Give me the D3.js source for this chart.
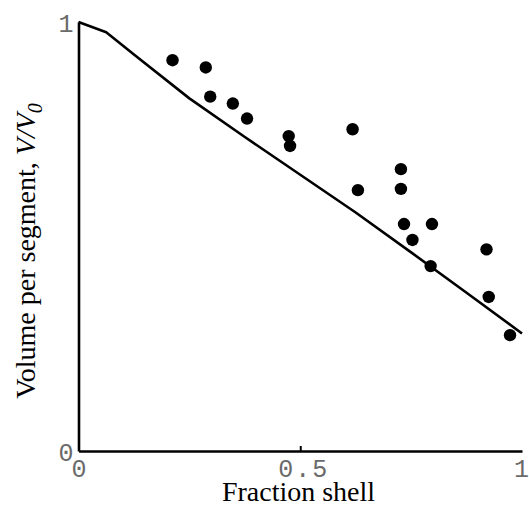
<!DOCTYPE html>
<html>
<head>
<meta charset="utf-8">
<script src="https://cdn.jsdelivr.net/npm/d3@7"></script>
<style>
  html, body { margin: 0; padding: 0; background: #fff; }
  svg { display: block; }
</style>
</head>
<body>
<script>
// ---- data ----
const lineX = [0, 0.0625, 0.125, 0.25, 0.375, 0.5, 0.625, 0.75, 0.875, 1.0];
const lineY = [1.0, 0.976, 0.924, 0.822, 0.732, 0.644, 0.556, 0.463, 0.369, 0.274];

const pointX = [0.212, 0.287, 0.297, 0.348, 0.380, 0.474, 0.477, 0.618, 0.630, 0.727, 0.727, 0.734, 0.797, 0.753, 0.794, 0.920, 0.925, 0.973];
const pointY = [0.911, 0.894, 0.826, 0.810, 0.775, 0.734, 0.711, 0.750, 0.608, 0.657, 0.611, 0.529, 0.529, 0.492, 0.431, 0.470, 0.359, 0.270];

const xTicks = [0, 0.5, 1];
const xTickLabels = ["0", "0.5", "1"];
const yTicks = [0, 1];
const yTickLabels = ["0", "1"];

// ---- chart ----
const W = 529, H = 506;
const svg = d3.select("body").append("svg").attr("width", W).attr("height", H);

const x = d3.scaleLinear().domain([0, 1]).range([78.5, 522]);
const y = d3.scaleLinear().domain([0, 1]).range([451, 22]);

const tickFont = "'Liberation Mono', monospace";

// x axis
const gx = svg.append("g").attr("transform", `translate(0,${y(0)})`)
  .call(d3.axisBottom(x).tickValues(xTicks).tickSizeInner(-5).tickSizeOuter(0)
    .tickFormat((d, i) => xTickLabels[i]));
gx.select(".domain").attr("stroke", "#000").attr("stroke-width", 2.6);
gx.selectAll(".tick line").attr("stroke", "#000").attr("stroke-width", 2)
  .attr("opacity", d => d === 0.5 ? 1 : 0);
gx.selectAll(".tick text")
  .attr("y", 26).attr("dy", 0)
  .attr("fill", "#6a6a6a")
  .style("font-family", tickFont)
  .style("font-size", "25px")
  .style("letter-spacing", d => d === 0.5 ? "2px" : "0px")
  .attr("dx", d => d === 0.5 ? 3 : (d === 1 ? -1 : 0));

// y axis
const gy = svg.append("g").attr("transform", `translate(${x(0)},0)`)
  .call(d3.axisLeft(y).tickValues(yTicks).tickSizeInner(0).tickSizeOuter(0).tickPadding(5)
    .tickFormat((d, i) => yTickLabels[i]));
gy.select(".domain").attr("stroke", "#000").attr("stroke-width", 2.6);
gy.selectAll(".tick text")
  .attr("dy", "0.36em")
  .attr("fill", "#6a6a6a")
  .style("font-family", tickFont)
  .style("font-size", "25px");

// line
const lineData = lineX.map((v, i) => [v, lineY[i]]);
svg.append("path")
  .datum(lineData)
  .attr("fill", "none")
  .attr("stroke", "#000")
  .attr("stroke-width", 2.6)
  .attr("stroke-linejoin", "round")
  .attr("d", d3.line().x(d => x(d[0])).y(d => y(d[1])));

// points
const pts = pointX.map((v, i) => [v, pointY[i]]);
svg.append("g").selectAll("circle").data(pts).join("circle")
  .attr("cx", d => x(d[0]))
  .attr("cy", d => y(d[1]))
  .attr("r", 6.2)
  .attr("fill", "#000");

// axis titles
svg.append("text")
  .attr("x", 298.5).attr("y", 501)
  .attr("text-anchor", "middle")
  .style("font-family", "'Liberation Serif', 'Times New Roman', serif")
  .style("font-size", "28px")
  .attr("fill", "#000")
  .text("Fraction shell");

const yt = svg.append("text")
  .attr("transform", "translate(35,251) rotate(-90)")
  .attr("text-anchor", "middle")
  .style("font-family", "'Liberation Serif', 'Times New Roman', serif")
  .style("font-size", "28px")
  .attr("fill", "#000");
yt.append("tspan").text("Volume per segment, ");
yt.append("tspan").style("font-style", "italic").text("V/V");
yt.append("tspan").style("font-style", "italic").style("font-size", "20px").attr("dy", 7).text("0");
</script>
</body>
</html>
